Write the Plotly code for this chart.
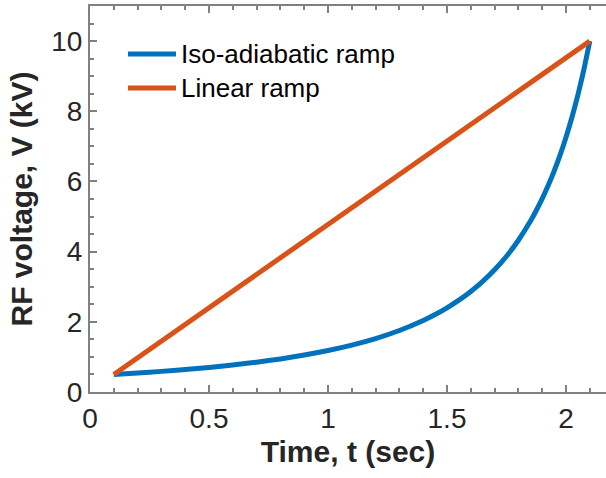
import plotly.graph_objects as go

# Data
t_iso = [0.1, 0.2, 0.3, 0.4, 0.5, 0.6, 0.7, 0.8, 0.9, 1.0, 1.1, 1.2, 1.3, 1.4,
         1.45, 1.5, 1.55, 1.6, 1.65, 1.7, 1.75, 1.8, 1.85, 1.875, 1.9, 1.925,
         1.95, 1.975, 2.0, 2.025, 2.05, 2.075, 2.1]
v_iso = [0.5, 0.541, 0.588, 0.641, 0.701, 0.770, 0.850, 0.943, 1.052, 1.181,
         1.336, 1.523, 1.752, 2.038, 2.207, 2.399, 2.617, 2.866, 3.152, 3.483,
         3.869, 4.324, 4.863, 5.172, 5.510, 5.883, 6.295, 6.752, 7.261, 7.829,
         8.467, 9.186, 10.0]
t_lin = [0.1, 2.1]
v_lin = [0.5, 10.0]

series_names = ["Iso-adiabatic ramp", "Linear ramp"]
colors = ["#0072BD", "#D95319"]

x_ticks = [0, 0.5, 1, 1.5, 2]
x_ticklabels = ["0", "0.5", "1", "1.5", "2"]
y_ticks = [0, 2, 4, 6, 8, 10]

FONT = "Liberation Sans, Arial, sans-serif"

fig = go.Figure()
fig.add_trace(go.Scatter(x=t_iso, y=v_iso, mode="lines", name=series_names[0],
                         line=dict(color=colors[0], width=5, shape="spline", smoothing=0.6),
                         showlegend=False))
fig.add_trace(go.Scatter(x=t_lin, y=v_lin, mode="lines", name=series_names[1],
                         line=dict(color=colors[1], width=5), showlegend=False))

# manual legend
leg_y = [0.8756, 0.7876]
for name, col, yy in zip(series_names, colors, leg_y):
    fig.add_shape(type="line", xref="paper", yref="paper", x0=0.0736, x1=0.1667,
                  y0=yy, y1=yy, line=dict(color=col, width=5))
    fig.add_annotation(xref="paper", yref="paper", x=0.1725, y=yy, text=name,
                       showarrow=False, xanchor="left", yanchor="middle",
                       font=dict(family=FONT, size=26, color="#000000"))

axis_common = dict(
    showgrid=False, zeroline=False, showline=True, linecolor="#808080",
    linewidth=2, ticks="inside", tickcolor="#808080", tickwidth=1.5,
    ticklen=7, tickfont=dict(family=FONT, size=28, color="#262626"),
)

fig.update_xaxes(**axis_common, range=[0, 2.168], tickvals=x_ticks,
                 ticktext=x_ticklabels, mirror="ticks",
                 minor=dict(ticks="inside", dtick=0.1, ticklen=4, tickcolor="#808080",
                            tickwidth=1.5, showgrid=False),
                 title=dict(text="<b>Time, t (sec)</b>", standoff=8,
                            font=dict(family=FONT, size=30, color="#262626")))
fig.update_yaxes(**axis_common, range=[0, 11], tickvals=y_ticks, mirror=False,
                 minor=dict(ticks="inside", dtick=0.5, ticklen=4, tickcolor="#808080",
                            tickwidth=1.5, showgrid=False),
                 title=dict(text="<b>RF voltage, V (kV)</b>", standoff=10,
                            font=dict(family=FONT, size=30, color="#262626")))

fig.update_layout(width=606, height=478, margin=dict(l=90, r=0, t=6, b=86),
                  paper_bgcolor="white", plot_bgcolor="white", showlegend=False)

fig.write_html("out.html")
